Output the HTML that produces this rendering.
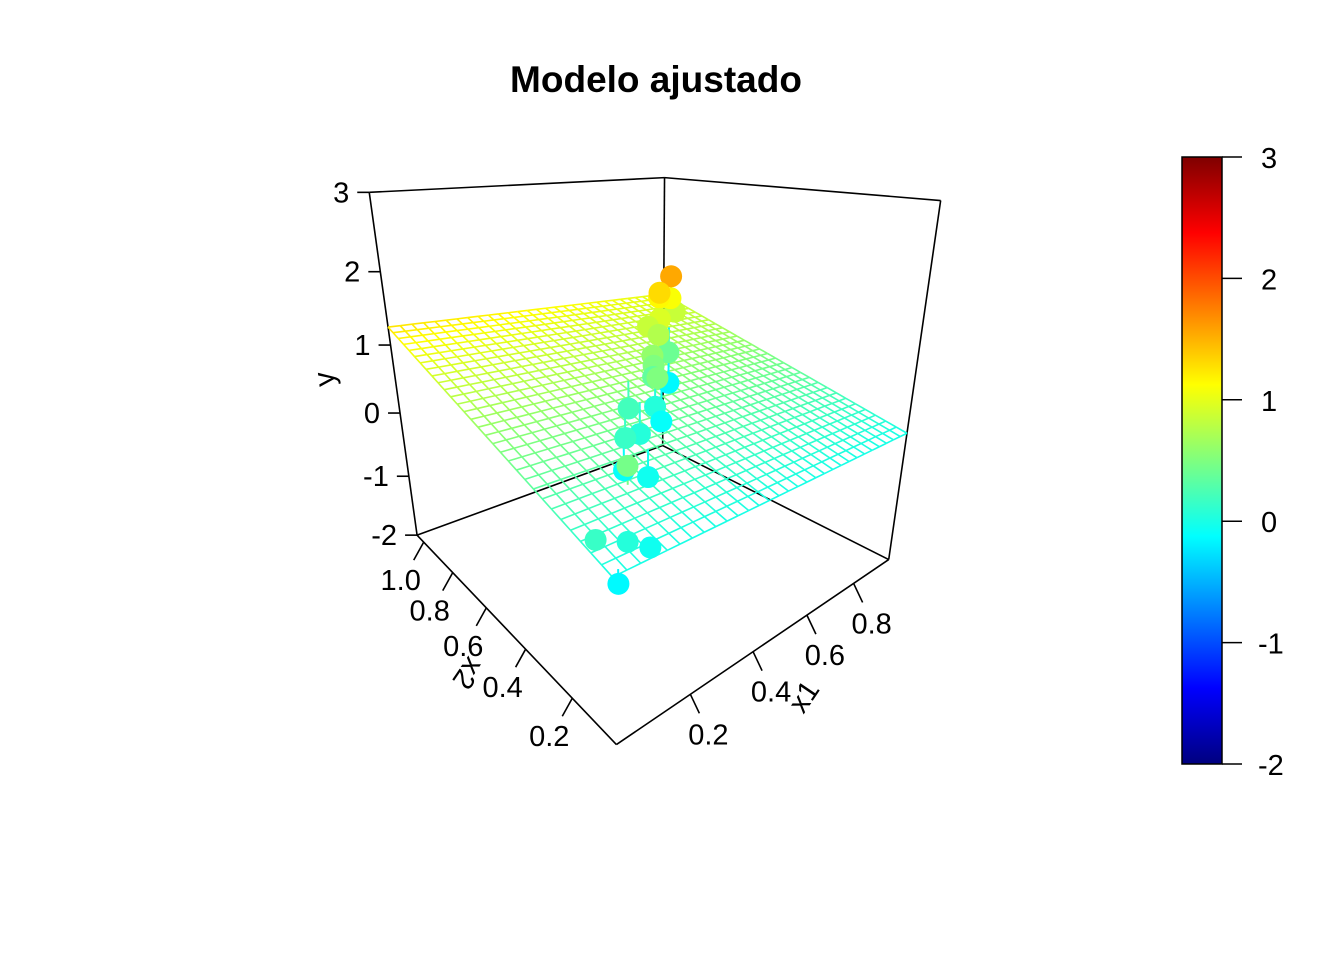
<!DOCTYPE html>
<html><head><meta charset="utf-8"><style>
html,body{margin:0;padding:0;background:#fff;}
svg{display:block;font-family:"Liberation Sans",Arial,sans-serif;}
</style></head><body>
<svg id="chart" width="1344" height="960" viewBox="0 0 1344 960" xmlns="http://www.w3.org/2000/svg">
<rect width="1344" height="960" fill="#fff"/>
<text x="656" y="92" text-anchor="middle" font-size="37" font-weight="bold">Modelo ajustado</text>
<g id="plot"></g>
<g id="cbar"></g>
</svg>
<script>
// ---- data ----
const x1Vals = [0.84,0.80,0.89,0.84,0.91,0.76,0.72,0.73,0.78,0.64,0.62,0.61,0.79,0.56,0.45,0.56,0.55,0.34,0.41,0.18,0.30,0.29,0.02,0.08,0.12,0.02];
const x2Vals = [0.86,0.87,0.92,0.92,0.92,0.82,0.83,0.79,0.80,0.71,0.68,0.67,0.81,0.59,0.58,0.60,0.56,0.45,0.48,0.23,0.31,0.39,0.12,0.10,0.08,0.05];
const yVals  = [1.55,1.3,1.1,1.15,0.85,0.95,0.85,0.75,0.4,0.6,0.5,0.35,-0.15,0.5,0.2,0.05,-0.1,0.15,0.05,0.45,-0.05,-0.1,0.15,0.05,-0.05,-0.15];
const surfCoef = [-0.05, 0.0, 1.24, -0.25]; // y = a + b*x1 + c*x2 + d*x1*x2
const x1Ticks = [0.2,0.4,0.6,0.8];
const x2Ticks = [0.2,0.4,0.6,0.8,1.0];
const yTicks = [-2,-1,0,1,2,3];
const cbTicks = [-2,-1,0,1,2,3];
const x1Range=[0,0.97], x2Range=[0.04,1.05], yRange=[-2,3];

// ---- projection calibration (screen layout) ----
const calib = [
 [[0,0.04,-2],[617,740]],[[0.2,0.04,-2],[686,695]],[[0.4,0.04,-2],[750,653]],[[0.6,0.04,-2],[804,617]],[[0.8,0.04,-2],[852,583]],
 [[0.97,0.04,-2],[891,557]],[[0,0.2,-2],[578,702]],[[0,0.4,-2],[529,653]],[[0,0.6,-2],[488,609]],[[0,0.8,-2],[453,573]],
 [[0,1.0,-2],[423,542]],[[0,1.05,-2],[416,533]],[[0.97,1.05,-2],[664,446]],[[0,1.05,3],[370,194]],[[0,1.05,2],[380,271]],
 [[0,1.05,1],[390,344]],[[0,1.05,0],[399,411]],[[0,1.05,-1],[408,475]],[[0.97,1.05,3],[664,180]],[[0.97,0.04,3],[942,198]]
];
function norm(p){return [(p[0]-x1Range[0])/(x1Range[1]-x1Range[0]),(p[1]-x2Range[0])/(x2Range[1]-x2Range[0]),(p[2]-yRange[0])/(yRange[1]-yRange[0])];}
const A=[],B=[];
calib.forEach(([d,s])=>{const [U,V,W]=norm(d);
 A.push([U,V,W,1,0,0,0,0,-s[0]*U,-s[0]*V,-s[0]*W]);B.push(s[0]);
 A.push([0,0,0,0,U,V,W,1,-s[1]*U,-s[1]*V,-s[1]*W]);B.push(s[1]);});
const N=11,M=[];for(let i=0;i<N;i++){M.push(new Array(N+1).fill(0));
 for(let j=0;j<N;j++)for(let k=0;k<A.length;k++)M[i][j]+=A[k][i]*A[k][j];
 for(let k=0;k<A.length;k++)M[i][N]+=A[k][i]*B[k];}
for(let i=0;i<N;i++){let p=i;for(let r=i+1;r<N;r++)if(Math.abs(M[r][i])>Math.abs(M[p][i]))p=r;[M[i],M[p]]=[M[p],M[i]];
 for(let r=0;r<N;r++)if(r!==i){const f=M[r][i]/M[i][i];for(let c=i;c<=N;c++)M[r][c]-=f*M[i][c];}}
const P=M.map((r,i)=>r[N]/r[i]);
function proj(x1,x2,y){const [U,V,W]=norm([x1,x2,y]);const d=P[8]*U+P[9]*V+P[10]*W+1;
 return [(P[0]*U+P[1]*V+P[2]*W+P[3])/d,(P[4]*U+P[5]*V+P[6]*W+P[7])/d];}

const stops=["#00007F","#0000FF","#007FFF","#00FFFF","#7FFF7F","#FFFF00","#FF7F00","#FF0000","#7F0000"];
function hex(h){return [1,3,5].map(i=>parseInt(h.substr(i,2),16));}
function jet(z){let f=(z-yRange[0])/(yRange[1]-yRange[0]);f=Math.max(0,Math.min(1,f))*8;const i=Math.min(7,Math.floor(f)),t=f-i;
 const a=hex(stops[i]),b=hex(stops[i+1]);return "rgb("+a.map((v,k)=>Math.round(v+(b[k]-v)*t)).join(",")+")";}
function plane(x1,x2){return surfCoef[0]+surfCoef[1]*x1+surfCoef[2]*x2+surfCoef[3]*x1*x2;}

const NS="http://www.w3.org/2000/svg";
const plot=document.getElementById('plot');
function el(tag,attrs,parent){const e=document.createElementNS(NS,tag);for(const k in attrs)e.setAttribute(k,attrs[k]);(parent||plot).appendChild(e);return e;}
function line(a,b,col,w,name){const e=el('line',{x1:a[0],y1:a[1],x2:b[0],y2:b[1],stroke:col,'stroke-width':w});
 
 return e;}
function text(x,y,s,size,anchor,name,rot){const e=el('text',{x:x,y:y,'font-size':size,'text-anchor':anchor||'middle'});e.textContent=s;
 if(rot)e.setAttribute('transform','rotate('+rot+' '+x+' '+y+')');
 
 return e;}

const [a0,a1]=x1Range,[b0,b1]=x2Range,[c0,c1]=yRange;
// back box edges
[[[a0,b1,c0],[a1,b1,c0]],[[a1,b1,c0],[a1,b0,c0]],[[a0,b1,c1],[a1,b1,c1]],[[a1,b1,c1],[a1,b0,c1]],
 [[a0,b1,c0],[a0,b1,c1]],[[a1,b1,c0],[a1,b1,c1]],[[a1,b0,c0],[a1,b0,c1]]].forEach(e=>line(proj(...e[0]),proj(...e[1]),'#000',1.6,'box-edge'));
// front axes
line(proj(a0,b0,c0),proj(a1,b0,c0),'#000',1.6,'x1-axis-line');
line(proj(a0,b0,c0),proj(a0,b1,c0),'#000',1.6,'x2-axis-line');

// surface mesh
const G=30;
for(let i=0;i<=G;i++){for(let j=0;j<G;j++){
 const xa=a0+(a1-a0)*i/G, yb0=b0+(b1-b0)*j/G, yb1=b0+(b1-b0)*(j+1)/G;
 line(proj(xa,yb0,plane(xa,yb0)),proj(xa,yb1,plane(xa,yb1)),jet((plane(xa,yb0)+plane(xa,yb1))/2),1.6,'surface-mesh-line');
 const xb=b0+(b1-b0)*i/G, xa0=a0+(a1-a0)*j/G, xa1=a0+(a1-a0)*(j+1)/G;
 line(proj(xa0,xb,plane(xa0,xb)),proj(xa1,xb,plane(xa1,xb)),jet((plane(xa0,xb)+plane(xa1,xb))/2),1.6,'surface-mesh-line');
}}

// drop lines & points
const idx=x1Vals.map((_,i)=>i).sort((p,q)=>(x1Vals[q]+x2Vals[q])-(x1Vals[p]+x2Vals[p]));
idx.forEach(i=>{const c=jet(yVals[i]);line(proj(x1Vals[i],x2Vals[i],yVals[i]),proj(x1Vals[i],x2Vals[i],plane(x1Vals[i],x2Vals[i])),c,2,'fit-drop-line');});
idx.forEach(i=>{const p=proj(x1Vals[i],x2Vals[i],yVals[i]);const e=el('circle',{cx:p[0],cy:p[1],r:11,fill:jet(yVals[i])});
 
 });

// ticks
yTicks.forEach(v=>{const p=proj(a0,b1,v);line([p[0]-12,p[1]],p,'#000',1.6,'y-tick');text(p[0]-20,p[1]+10,String(v),29,'end','y-tick-label');});
x1Ticks.forEach(v=>{const p=proj(v,b0,c0);line(p,[p[0]+9,p[1]+19],'#000',1.6,'x1-tick');text(p[0]+18,p[1]+50,v.toFixed(1),29,'middle','x1-tick-label');});
x2Ticks.forEach(v=>{const p=proj(a0,v,c0);line(p,[p[0]-10,p[1]+18],'#000',1.6,'x2-tick');text(p[0]-23,p[1]+48,v.toFixed(1),29,'middle','x2-tick-label');});
text(812,702,'x1',29,'middle','x1-axis-title',-56);
text(460,668,'x2',29,'middle','x2-axis-title',124);
text(334,378,'y',29,'middle','y-axis-title',-97);

// colorbar
const cb=document.getElementById('cbar');
const defs=el('defs',{},cb);const lg=el('linearGradient',{id:'jetg',x1:0,y1:1,x2:0,y2:0},defs);
stops.forEach((s,i)=>el('stop',{offset:i/8,'stop-color':s},lg));
const cbTop=157,cbBot=764;
const cr=el('rect',{x:1182,y:cbTop,width:40,height:cbBot-cbTop,fill:'url(#jetg)',stroke:'#000','stroke-width':1.5},cb);


cbTicks.forEach(v=>{const y=cbBot-(v-yRange[0])/(yRange[1]-yRange[0])*(cbBot-cbTop);
 const l=el('line',{x1:1222,y1:y,x2:1242,y2:y,stroke:'#000','stroke-width':1.5},cb);
 
 
 const t=el('text',{x:v<0?1258:1261,y:y+11,'font-size':29},cb);t.textContent=String(v);
 
 });
</script>
</body></html>
